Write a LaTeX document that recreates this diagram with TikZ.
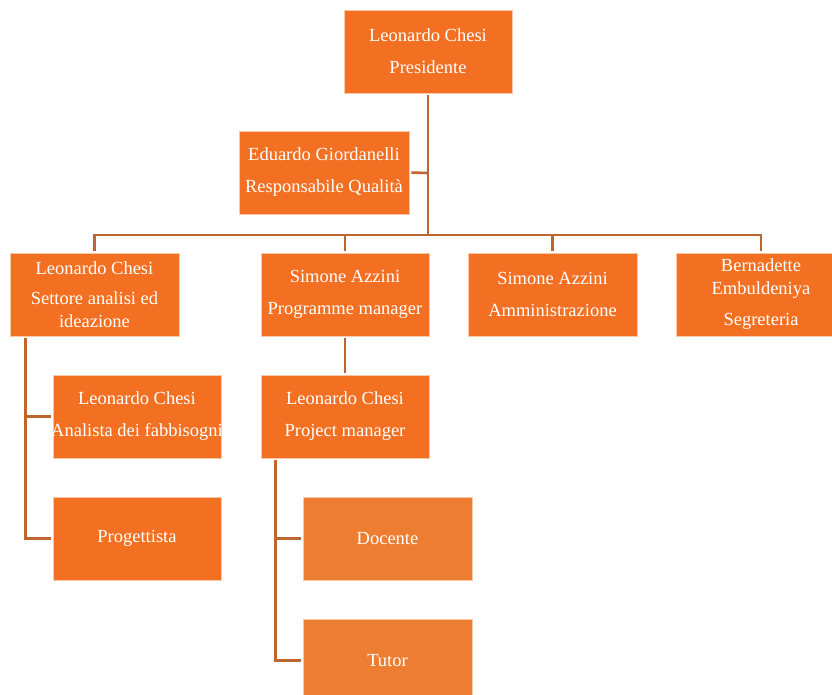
\documentclass[tikz,border=0pt]{standalone}
\usepackage{fontspec}
\setmainfont{Liberation Serif}
\definecolor{boxorange}{HTML}{F37022}
\definecolor{boxlight}{HTML}{ED7D31}
\definecolor{linkbrown}{HTML}{BF6530}
\definecolor{boxedge}{HTML}{F9C8A6}
\tikzset{
  orgbox/.style={rectangle, fill=boxorange, draw=boxedge, line width=0.6pt,
    minimum width=168pt, minimum height=83pt, inner sep=0pt, align=center,
    text=white, font=\fontsize{18.5}{23}\selectfont},
  orglight/.style={orgbox, fill=boxlight},
  link/.style={draw=linkbrown, line width=2.6pt}
}
\begin{document}
\begin{tikzpicture}[x=1pt, y=-1pt]
\useasboundingbox (0,0) rectangle (832,695);
\clip (0,0) rectangle (832,695);
\node[orgbox] (top) at (428,51.5) {Leonardo Chesi\\[9pt]Presidente};
\node[orgbox, minimum width=170pt] (edu) at (324,172.5) {Eduardo Giordanelli\\[9pt]Responsabile Qualità};
\node[orgbox, minimum width=169pt] (set) at (94.5,294.5) {Leonardo Chesi\\[7pt]Settore analisi ed\\ideazione};
\node[orgbox] (prog) at (345,294.5) {Simone Azzini\\[9pt]Programme manager};
\node[orgbox, minimum width=169pt] (amm) at (552.5,294.5) {Simone Azzini\\[9pt]Amministrazione};
\node[orgbox, minimum width=170pt] (seg) at (761,294.5) {Bernadette\\Embuldeniya\\[8pt]Segreteria};
\node[orgbox] (ana) at (137,416.5) {Leonardo Chesi\\[9pt]\makebox[166pt]{Analista dei fabbisogni}};
\node[orgbox] (pro) at (137,538.5) {Progettista};
\node[orgbox] (pm) at (345,416.5) {Leonardo Chesi\\[9pt]Project manager};
\node[orglight, minimum width=169pt] (doc) at (387.5,538.5) {Docente};
\node[orglight, minimum width=169pt] (tut) at (387.5,660.5) {Tutor};
\coordinate (bus) at (428,235);
\coordinate (mid) at (428,173);
\draw[link, shorten <=2pt] (top.south) -- (bus);
\draw[link, shorten <=2pt] (edu.east) -- (mid);
\draw[link, shorten <=2pt] (set.north) |- (bus);
\draw[link, shorten <=2pt] (seg.north) |- (bus);
\draw[link, shorten <=2pt] (prog.north) -- (prog.north |- bus);
\draw[link, shorten <=2pt] (amm.north) -- (amm.north |- bus);
\draw[link, shorten <=2pt, shorten >=2pt] (prog.south) -- (pm.north);
\coordinate (setleg) at ([xshift=16pt]set.south west);
\draw[link, shorten <=2pt, shorten >=2pt] (setleg) |- (ana.west);
\draw[link, shorten <=2pt, shorten >=2pt] (setleg) |- (pro.west);
\coordinate (pmleg) at ([xshift=15pt]pm.south west);
\draw[link, shorten <=2pt, shorten >=2pt] (pmleg) |- (doc.west);
\draw[link, shorten <=2pt, shorten >=2pt] (pmleg) |- (tut.west);
\end{tikzpicture}
\end{document}
